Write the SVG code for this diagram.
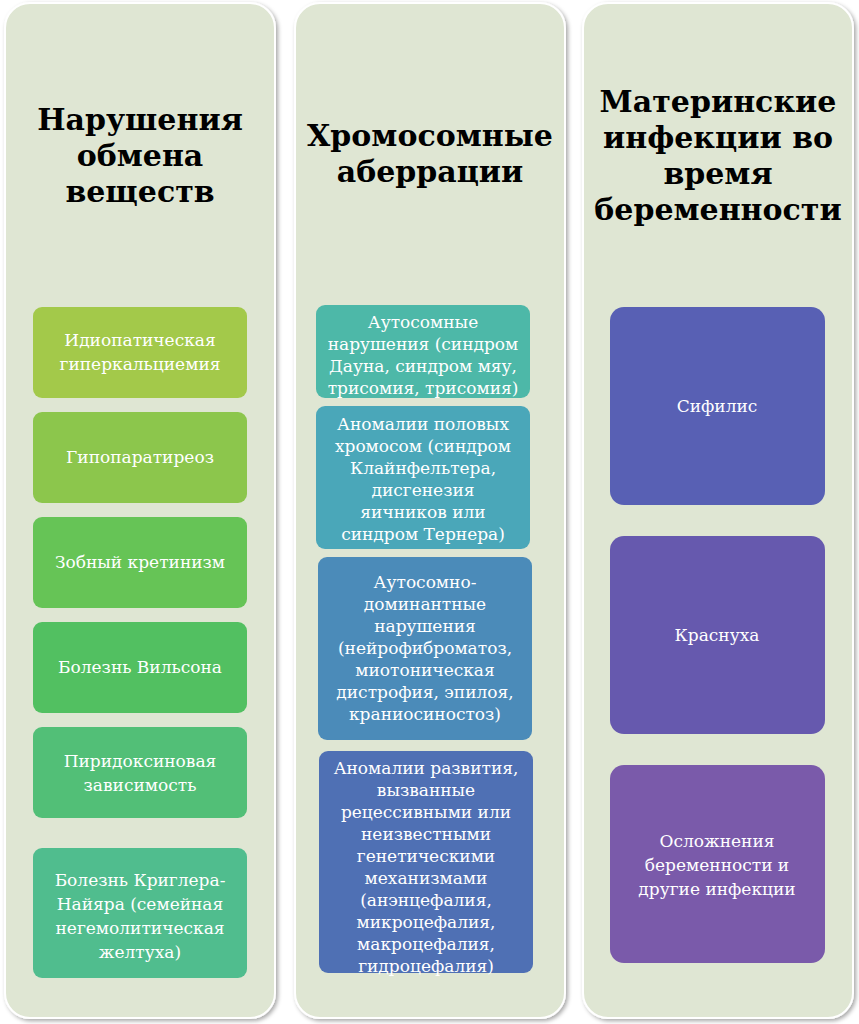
<svg xmlns="http://www.w3.org/2000/svg" width="859" height="1024" viewBox="0 0 859 1024">
<style>
.col{fill:#dfe6d3;stroke:#ffffff;stroke-width:2}
.h{font-family:"DejaVu Serif","Liberation Serif",serif;font-weight:bold;font-size:30px;fill:#000;text-anchor:middle}
.t{font-family:"DejaVu Serif","Liberation Serif",serif;font-size:17px;fill:#fff;text-anchor:middle}
</style>
<defs><filter id="sh" x="-10%" y="-10%" width="120%" height="120%"><feDropShadow dx="2" dy="2" stdDeviation="2" flood-opacity="0.35"/></filter></defs>
<rect width="859" height="1024" fill="#fff"/>
<g id="col1"><rect class="col" x="5" y="3" width="270" height="1015" rx="25" filter="url(#sh)"/>
<text class="h"><tspan x="140" y="130">Нарушения</tspan><tspan x="140" y="166">обмена</tspan><tspan x="140" y="202">веществ</tspan></text></g>
<g id="col2"><rect class="col" x="295" y="3" width="270" height="1015" rx="25" filter="url(#sh)"/>
<text class="h"><tspan x="430" y="146">Хромосомные</tspan><tspan x="430" y="182">аберрации</tspan></text></g>
<g id="col3"><rect class="col" x="583" y="3" width="270" height="1015" rx="25" filter="url(#sh)"/>
<text class="h"><tspan x="718" y="112">Материнские</tspan><tspan x="718" y="148">инфекции во</tspan><tspan x="718" y="184">время</tspan><tspan x="718" y="220">беременности</tspan></text></g>
<g id="n1"><rect x="33" y="307" width="214" height="91" rx="9" fill="#a3c94a"/><text class="t"><tspan x="140" y="346">Идиопатическая</tspan><tspan x="140" y="370">гиперкальциемия</tspan></text></g>
<g id="n2"><rect x="33" y="412" width="214" height="91" rx="9" fill="#8cc64c"/><text class="t"><tspan x="140" y="463">Гипопаратиреоз</tspan></text></g>
<g id="n3"><rect x="33" y="517" width="214" height="91" rx="9" fill="#66c456"/><text class="t"><tspan x="140" y="568">Зобный кретинизм</tspan></text></g>
<g id="n4"><rect x="33" y="622" width="214" height="91" rx="9" fill="#52c061"/><text class="t"><tspan x="140" y="673">Болезнь Вильсона</tspan></text></g>
<g id="n5"><rect x="33" y="727" width="214" height="91" rx="9" fill="#52bf77"/><text class="t"><tspan x="140" y="767">Пиридоксиновая</tspan><tspan x="140" y="791">зависимость</tspan></text></g>
<g id="n6"><rect x="33" y="848" width="214" height="130" rx="9" fill="#50bd8e"/><text class="t"><tspan x="140" y="886">Болезнь Криглера-</tspan><tspan x="140" y="910">Найяра (семейная</tspan><tspan x="140" y="934">негемолитическая</tspan><tspan x="140" y="958">желтуха)</tspan></text></g>
<g id="m1"><rect x="316" y="305" width="214" height="93" rx="9" fill="#4db8a8"/><text class="t"><tspan x="423" y="328">Аутосомные</tspan><tspan x="423" y="350">нарушения (синдром</tspan><tspan x="423" y="372">Дауна, синдром мяу,</tspan><tspan x="423" y="394">трисомия, трисомия)</tspan></text></g>
<g id="m2"><rect x="316" y="406" width="214" height="143" rx="9" fill="#4aa7b9"/><text class="t"><tspan x="423" y="430">Аномалии половых</tspan><tspan x="423" y="452">хромосом (синдром</tspan><tspan x="423" y="474">Клайнфельтера,</tspan><tspan x="423" y="496">дисгенезия</tspan><tspan x="423" y="518">яичников или</tspan><tspan x="423" y="540">синдром Тернера)</tspan></text></g>
<g id="m3"><rect x="318" y="557" width="214" height="183" rx="9" fill="#4b8bb9"/><text class="t"><tspan x="425" y="588">Аутосомно-</tspan><tspan x="425" y="610">доминантные</tspan><tspan x="425" y="632">нарушения</tspan><tspan x="425" y="654">(нейрофиброматоз,</tspan><tspan x="425" y="676">миотоническая</tspan><tspan x="425" y="698">дистрофия, эпилоя,</tspan><tspan x="425" y="720">краниосиностоз)</tspan></text></g>
<g id="m4"><rect x="319" y="751" width="214" height="222" rx="9" fill="#4f70b4"/><text class="t"><tspan x="426" y="774">Аномалии развития,</tspan><tspan x="426" y="796">вызванные</tspan><tspan x="426" y="818">рецессивными или</tspan><tspan x="426" y="840">неизвестными</tspan><tspan x="426" y="862">генетическими</tspan><tspan x="426" y="884">механизмами</tspan><tspan x="426" y="906">(анэнцефалия,</tspan><tspan x="426" y="928">микроцефалия,</tspan><tspan x="426" y="950">макроцефалия,</tspan><tspan x="426" y="972">гидроцефалия)</tspan></text></g>
<g id="r1"><rect x="610" y="307" width="215" height="198" rx="14" fill="#5860b4"/><text class="t"><tspan x="717" y="412">Сифилис</tspan></text></g>
<g id="r2"><rect x="610" y="536" width="215" height="198" rx="14" fill="#6659ae"/><text class="t"><tspan x="717" y="641">Краснуха</tspan></text></g>
<g id="r3"><rect x="610" y="765" width="215" height="198" rx="14" fill="#7a5aaa"/><text class="t"><tspan x="717" y="847">Осложнения</tspan><tspan x="717" y="871">беременности и</tspan><tspan x="717" y="895">другие инфекции</tspan></text></g>
<g id="connectors"/>
</svg>
